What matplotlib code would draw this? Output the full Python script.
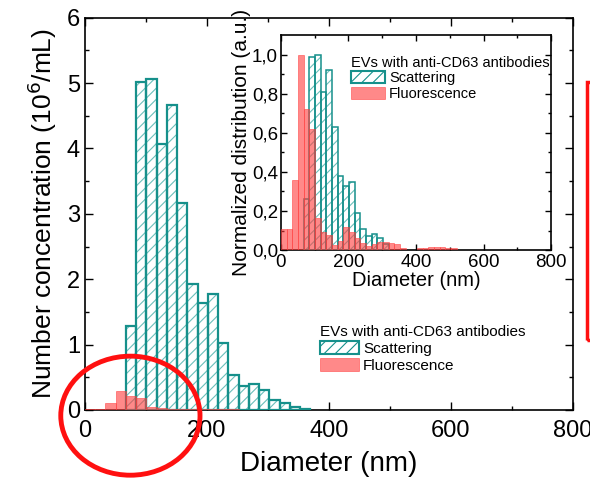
import numpy as np
import matplotlib
matplotlib.use('Agg')
import matplotlib.pyplot as plt
from matplotlib.patches import Patch, Ellipse, Rectangle

plt.rcParams['font.family'] = ['Liberation Sans', 'DejaVu Sans']
plt.rcParams['hatch.linewidth'] = 0.8

# Data (bin width in nm, bins start at 0)
bin_width = 16.8
# main plot: number concentration (10^6/mL), teal starts at bin 4
scat_first_bin = 4
scat_conc = [1.28, 5.01, 5.07, 4.07, 4.66, 3.17, 1.92, 1.63, 1.78, 1.02,
             0.54, 0.36, 0.40, 0.30, 0.15, 0.11, 0.05, 0.015]
fluo_conc = [0.015, 0.015, 0.10, 0.29, 0.21, 0.18, 0.05, 0.03, 0.02, 0.01,
             0.01, 0.02, 0.02, 0.015, 0.01]
# inset: normalized distribution
scat_norm = [0.26, 0.99, 1.0, 0.81, 0.92, 0.63, 0.38, 0.33, 0.35, 0.19,
             0.11, 0.07, 0.08, 0.06, 0.03]
fluo_norm = [0.107, 0.107, 0.36, 1.0, 0.72, 0.62, 0.163, 0.094, 0.077, 0.026,
             0.048, 0.117, 0.094, 0.06, 0.038, 0.02, 0.03, 0.04, 0.043, 0.038,
             0.03, 0.01, 0.0, 0.0, 0.012, 0.012, 0.015, 0.015, 0.015, 0.012, 0.01]

legend_title = 'EVs with anti-CD63 antibodies'
labels = ['Scattering', 'Fluorescence']

teal = '#16908b'
teal_light = '#6cbfbb'
red = '#ff3b3b'


def edges(first, n):
    return (np.arange(n) + first) * bin_width


def draw_hist(ax, scat, fluo, lw):
    xs = edges(scat_first_bin, len(scat))
    ax.bar(xs, scat, width=bin_width, align='edge', facecolor='white',
           edgecolor=teal_light, hatch='///', linewidth=0, zorder=2)
    ax.bar(xs, scat, width=bin_width, align='edge', fill=False,
           edgecolor=teal, linewidth=lw, zorder=3)
    xf = edges(0, len(fluo))
    ax.bar(xf, fluo, width=bin_width, align='edge', facecolor=red, alpha=0.6,
           edgecolor=red, linewidth=0.6, zorder=4)


def style_axes(ax, size, major_len, minor_len):
    ax.tick_params(which='both', direction='in', top=True, right=True,
                   labelsize=size, width=1.0)
    ax.tick_params(which='major', length=major_len)
    ax.tick_params(which='minor', length=minor_len)
    for s in ax.spines.values():
        s.set_linewidth(1.2)


fig = plt.figure(figsize=(5.9, 4.8), dpi=100)

# main axes
ax = fig.add_axes([0.144, 0.146, 0.827, 0.817])
draw_hist(ax, scat_conc, fluo_conc, 1.6)
ax.set_xlim(0, 800)
ax.set_ylim(0, 6)
ax.set_xticks([0, 200, 400, 600, 800])
ax.set_xticks([100, 300, 500, 700], minor=True)
ax.set_yticks(range(7))
ax.set_yticks(np.arange(0.5, 6, 1), minor=True)
style_axes(ax, 17, 6, 3)
ax.tick_params(axis='x', pad=7)
ax.set_xlabel('Diameter (nm)', fontsize=20, labelpad=7)
ax.set_ylabel('Number concentration (10$^6$/mL)', fontsize=19, labelpad=6)

handles = [Patch(facecolor='white', edgecolor=teal, hatch='///', linewidth=1.5),
           Patch(facecolor=red, alpha=0.6, edgecolor=red, linewidth=0.6)]
leg = ax.legend(handles, labels, title=legend_title, loc='upper left',
                bbox_to_anchor=(0.525, 0.345), bbox_transform=fig.transFigure,
                frameon=False, fontsize=11, title_fontsize=11,
                handlelength=2.5, handleheight=0.9, handletextpad=0.3,
                labelspacing=0.15, borderpad=0.2, alignment='left')

# inset
ins = fig.add_axes([0.476, 0.479, 0.458, 0.448])
draw_hist(ins, scat_norm, fluo_norm, 1.1)
ins.set_xlim(0, 800)
ins.set_ylim(0, 1.1)
ins.set_xticks([0, 200, 400, 600, 800])
ins.set_xticks([100, 300, 500, 700], minor=True)
ins.set_yticks(np.arange(0, 1.01, 0.2))
ins.set_yticklabels([f'{v:.1f}'.replace('.', ',') for v in np.arange(0, 1.01, 0.2)])
ins.set_yticks(np.arange(0.1, 1.1, 0.2), minor=True)
style_axes(ins, 13.5, 4, 2)
ins.tick_params(axis='y', pad=2)
ins.tick_params(axis='x', pad=3)
ins.set_xlabel('Diameter (nm)', fontsize=14.5, labelpad=0)
ins.set_ylabel('Normalized distribution (a.u.)', fontsize=15, labelpad=1)
ins.legend(handles, labels, title=legend_title, loc='upper left',
           bbox_to_anchor=(0.578, 0.905), bbox_transform=fig.transFigure,
           frameon=False, fontsize=10.5, title_fontsize=10.5,
           handlelength=2.3, handleheight=0.9, handletextpad=0.3,
           labelspacing=0.1, borderpad=0.2, alignment='left')

# red annotations drawn on the figure
fig.add_artist(Ellipse((0.221, 0.134), 0.236, 0.248, transform=fig.transFigure,
                       fill=False, edgecolor='#ff1010', linewidth=3.5, clip_on=False))
fig.add_artist(Rectangle((0.9945, 0.292), 0.05, 0.537, transform=fig.transFigure,
                         fill=False, edgecolor='#ff1010', linewidth=2.5))

fig.savefig('out.png', dpi=100)
